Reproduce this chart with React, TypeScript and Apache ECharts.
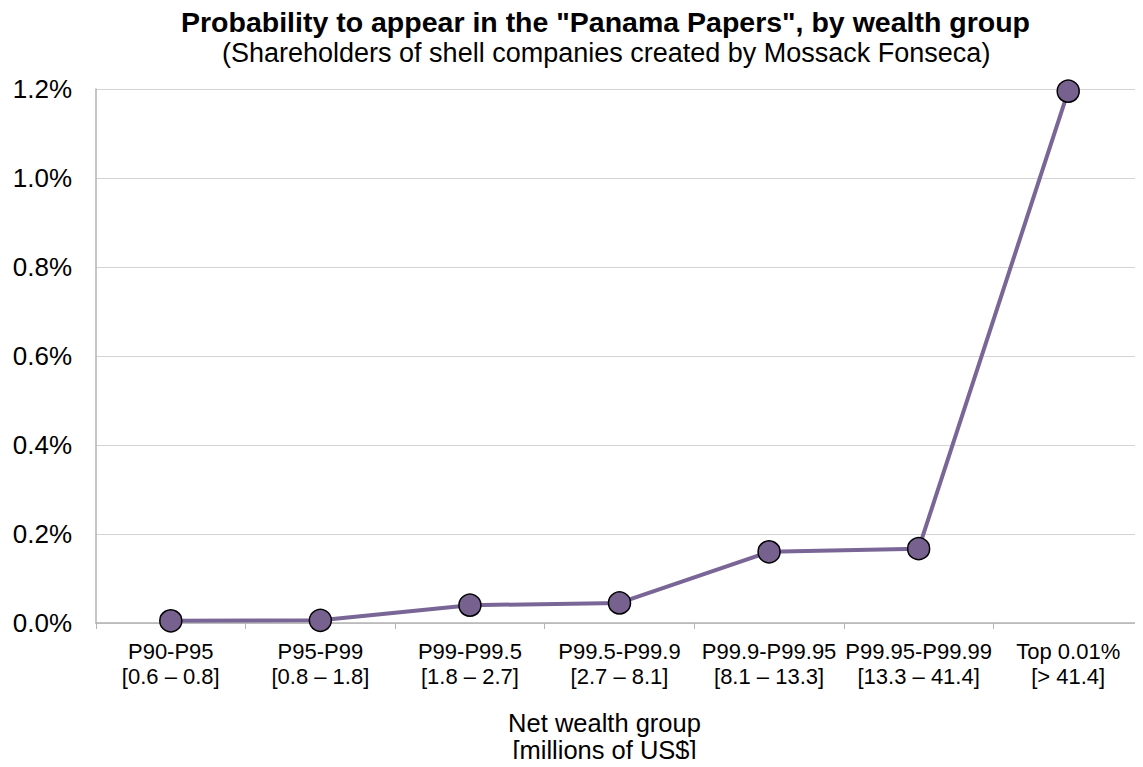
import React, { useEffect, useRef } from "react";
import * as echarts from "echarts";

const categories = [
  "P90-P95\n[0.6 – 0.8]",
  "P95-P99\n[0.8 – 1.8]",
  "P99-P99.5\n[1.8 – 2.7]",
  "P99.5-P99.9\n[2.7 – 8.1]",
  "P99.9-P99.95\n[8.1 – 13.3]",
  "P99.95-P99.99\n[13.3 – 41.4]",
  "Top 0.01%\n[> 41.4]",
];
const values = [0.005, 0.006, 0.04, 0.045, 0.16, 0.167, 1.195];

const FONT = "Liberation Sans, Arial, sans-serif";

export default function App() {
  const ref = useRef<HTMLDivElement>(null);
  useEffect(() => {
    const chart = echarts.init(ref.current!, null, { renderer: "svg" });
    chart.setOption({
      animation: false,
      textStyle: { fontFamily: FONT },
      title: [
        {
          text: 'Probability to appear in the "Panama Papers", by wealth group',
          left: 176,
          top: 2,
          padding: 5,
          textStyle: { fontSize: 28.5, fontWeight: "bold", color: "#000", fontFamily: FONT },
        },
        {
          text: "(Shareholders of shell companies created by Mossack Fonseca)",
          left: 217,
          top: 34,
          padding: 5,
          textStyle: { fontSize: 27, fontWeight: "normal", color: "#000", fontFamily: FONT },
        },
      ],
      grid: { left: 96, right: 0, top: 89, bottom: 144, containLabel: false, outerBoundsMode: "none" },
      xAxis: {
        type: "category",
        data: categories,
        boundaryGap: true,
        name: "Net wealth group\n[millions of US$]",
        nameLocation: "middle",
        nameGap: 86,
        nameTextStyle: { fontSize: 25.5, color: "#000", lineHeight: 27, padding: [0, 30, 0, 0] },
        axisLine: { lineStyle: { color: "#b3b3b3", width: 1.5 } },
        axisTick: { show: true, length: 6, lineStyle: { color: "#b3b3b3" } },
        axisLabel: { fontSize: 22, color: "#000", lineHeight: 25, margin: 16, interval: 0 },
      },
      yAxis: {
        type: "value",
        min: 0,
        max: 1.2,
        interval: 0.2,
        axisLine: { show: true, lineStyle: { color: "#b3b3b3", width: 1.5 } },
        axisTick: { show: false },
        splitLine: { lineStyle: { color: "#d4d4d4", width: 1 } },
        axisLabel: {
          fontSize: 26,
          color: "#000",
          margin: 24,
          formatter: (v: number) => v.toFixed(1) + "%",
        },
      },
      series: [
        {
          type: "line",
          data: values,
          symbol: "circle",
          symbolSize: 22,
          lineStyle: { color: "#7a6696", width: 4 },
          itemStyle: { color: "#77618f", borderColor: "#000", borderWidth: 1.5 },
        },
      ],
    });
    return () => chart.dispose();
  }, []);
  return <div ref={ref} style={{ width: 1143, height: 767, margin: -8 }} />;
}
